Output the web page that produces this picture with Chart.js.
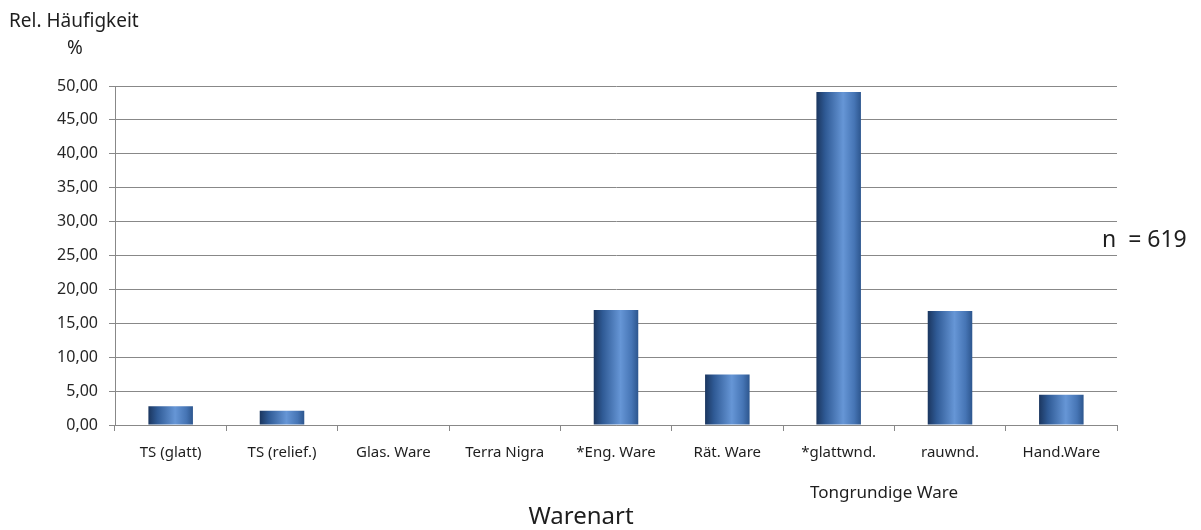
<!DOCTYPE html>
<html>
<head>
<meta charset="utf-8">
<script src="https://cdn.jsdelivr.net/npm/chart.js@4"></script>
<style>
    html, body { margin: 0; padding: 0; background: #fff; }
    #wrap { width: 1201px; height: 530px; position: relative; }
</style>
</head>
<body>
<div id="wrap"><canvas id="chart-bars"></canvas></div>
<script>
// data
var kategorien = ["TS (glatt)", "TS (relief.)", "Glas. Ware", "Terra Nigra", "*Eng. Ware", "Rät. Ware", "*glattwnd.", "rauwnd.", "Hand.Ware"];
var anteile = [2.75, 2.10, 0, 0, 16.96, 7.43, 49.11, 16.80, 4.45];
var yMin = 0, yMax = 50, yStep = 5;

var schrift = "'Noto Sans', 'Open Sans', sans-serif";

// gradient per bar (dark edges, light middle)
function balkenFarbe(c) {
    var x = c.chart.scales.x;
    if (!x || x.width == null) return "#3f6fb0";
    var mitte = x.getPixelForValue(c.dataIndex);
    var breite = x.width / kategorien.length * 0.4;
    var g = c.chart.ctx.createLinearGradient(mitte - breite / 2, 0, mitte + breite / 2, 0);
    g.addColorStop(0, "#1b365f");
    g.addColorStop(0.2, "#2f5a95");
    g.addColorStop(0.6, "#6696d6");
    g.addColorStop(0.85, "#4675b5");
    g.addColorStop(1, "#2d568e");
    return g;
}

// extra texts around the plot
var texte = {
    id: "texte",
    afterDraw: function(chart) {
        var ctx = chart.ctx, a = chart.chartArea;
        ctx.save();
        ctx.fillStyle = "#1e1e1e";
        ctx.textBaseline = "middle";
        ctx.textAlign = "left";
        ctx.font = "19px " + schrift;
        ctx.fillText("Rel. Häufigkeit", 9, 22);
        ctx.fillText("%", 67, 49);
        ctx.font = "23px " + schrift;
        ctx.fillText("n  = 619", a.right - 15, 240);
        ctx.textAlign = "center";
        ctx.font = "17px " + schrift;
        ctx.fillText("Tongrundige Ware", 884, 493);
        ctx.font = "24px " + schrift;
        ctx.fillText("Warenart", 581, 517);
        ctx.restore();
    }
};

document.addEventListener("DOMContentLoaded", function() {
    var canvas = document.getElementById("chart-bars");
    if (!canvas) return;
    var ctx = canvas.getContext("2d");

    new Chart(ctx, {
        type: "bar",
        data: {
            labels: kategorien,
            datasets: [{
                label: "Rel. Häufigkeit",
                data: anteile,
                backgroundColor: balkenFarbe,
                borderWidth: 0,
                categoryPercentage: 1,
                barPercentage: 0.4
            }]
        },
        options: {
            responsive: true,
            maintainAspectRatio: false,
            animation: false,
            layout: { padding: { left: 0, right: 84, top: 86, bottom: 0 } },
            plugins: {
                legend: { display: false },
                tooltip: { enabled: false }
            },
            scales: {
                y: {
                    min: yMin,
                    max: yMax,
                    afterFit: function(s) { s.width = 115; },
                    grid: {
                        color: "#888888",
                        lineWidth: 1,
                        drawTicks: true,
                        tickLength: 6
                    },
                    border: { color: "#888888", width: 1 },
                    ticks: {
                        stepSize: yStep,
                        padding: 11,
                        color: "#262626",
                        font: { size: 16, family: schrift },
                        callback: function(v) { return v.toFixed(2).replace(".", ","); }
                    }
                },
                x: {
                    afterFit: function(s) { s.height = 105; },
                    grid: {
                        display: true,
                        offset: true,
                        drawOnChartArea: false,
                        drawTicks: true,
                        tickLength: 6,
                        color: "#888888"
                    },
                    border: { color: "#888888", width: 1 },
                    ticks: {
                        padding: 13,
                        maxRotation: 0,
                        autoSkip: false,
                        color: "#1e1e1e",
                        font: { size: 15, family: schrift }
                    }
                }
            }
        },
        plugins: [texte]
    });
});
</script>
</body>
</html>
